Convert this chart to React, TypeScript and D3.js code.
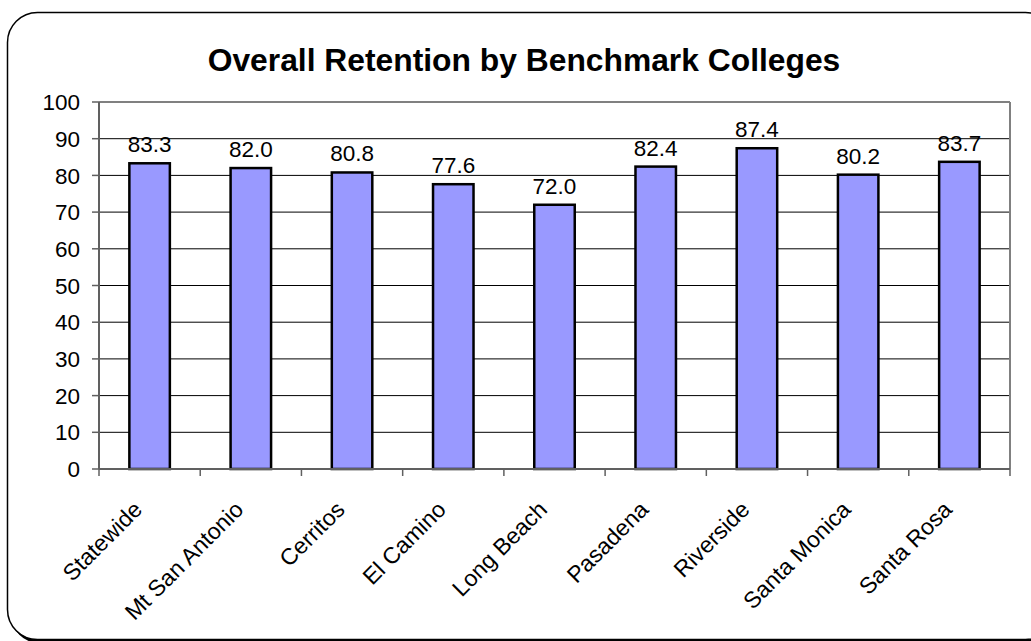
import React from 'react';
import * as d3 from 'd3';

const colleges = [
  'Statewide',
  'Mt San Antonio',
  'Cerritos',
  'El Camino',
  'Long Beach',
  'Pasadena',
  'Riverside',
  'Santa Monica',
  'Santa Rosa',
];
const retention = [83.3, 82.0, 80.8, 77.6, 72.0, 82.4, 87.4, 80.2, 83.7];
const yTicks = [0, 10, 20, 30, 40, 50, 60, 70, 80, 90, 100];
const chartTitle = 'Overall Retention by Benchmark Colleges';

export default function App() {
  const width = 1031;
  const height = 641;
  const plot = { left: 99, right: 1010, top: 102, bottom: 469 }; // plot area box

  const x = d3.scaleBand<string>().domain(colleges).range([plot.left, plot.right]).padding(0);
  const y = d3.scaleLinear().domain([0, 100]).range([plot.bottom, plot.top]);
  const barW = x.step() * 0.4; // gap width 150%
  const font = 'Arial, "Liberation Sans", sans-serif';

  return (
    <svg
      width={width}
      height={height}
      style={{ position: 'absolute', left: 0, top: 0, background: '#fff' }}
      fontFamily={font}
    >
      {/* frame with shadow */}
      <rect x={10.5} y={15.5} width={1048} height={628} rx={30} fill="#000" />
      <rect x={7.5} y={12.5} width={1048} height={627} rx={30} fill="#fff" stroke="#000" strokeWidth={1.5} />

      <text x={524} y={71} textAnchor="middle" fontSize={31.8} fontWeight="bold">
        {chartTitle}
      </text>

      {/* grid lines */}
      {yTicks.filter(t => t > 0 && t < 100).map(t => (
        <line key={t} x1={plot.left} x2={plot.right} y1={y(t)} y2={y(t)} stroke="#000" strokeWidth={1} />
      ))}

      {/* plot border top / right */}
      <line x1={plot.left} x2={plot.right} y1={plot.top} y2={plot.top} stroke="#808080" strokeWidth={2} />
      <line x1={plot.right} x2={plot.right} y1={plot.top} y2={plot.bottom} stroke="#808080" strokeWidth={2} />

      {/* y axis */}
      <line x1={plot.left} x2={plot.left} y1={plot.top} y2={plot.bottom} stroke="#606060" strokeWidth={2} />
      {yTicks.map(t => (
        <g key={t}>
          <line x1={plot.left - 7} x2={plot.left} y1={y(t)} y2={y(t)} stroke="#606060" strokeWidth={1.5} />
          <text x={80} y={y(t)} dy="0.36em" textAnchor="end" fontSize={22.5}>
            {t}
          </text>
        </g>
      ))}

      {/* bars */}
      {colleges.map((c, i) => {
        const cx = (x(c) ?? 0) + x.bandwidth() / 2;
        return (
          <g key={c}>
            <rect
              x={cx - barW / 2}
              y={y(retention[i])}
              width={barW}
              height={y(0) - y(retention[i])}
              fill="#9999FF"
              stroke="#000"
              strokeWidth={2.5}
            />
            <text x={cx} y={y(retention[i]) - 11} textAnchor="middle" fontSize={22.5}>
              {retention[i].toFixed(1)}
            </text>
          </g>
        );
      })}

      {/* x axis */}
      <line x1={plot.left} x2={plot.right} y1={plot.bottom} y2={plot.bottom} stroke="#606060" strokeWidth={2} />
      {colleges.map(c => (
        <line key={c} x1={x(c) ?? 0} x2={x(c) ?? 0} y1={plot.bottom} y2={plot.bottom + 7} stroke="#606060" strokeWidth={1.5} />
      ))}
      <line x1={plot.right} x2={plot.right} y1={plot.bottom} y2={plot.bottom + 7} stroke="#606060" strokeWidth={1.5} />
      {colleges.map(c => {
        const cx = (x(c) ?? 0) + x.bandwidth() / 2;
        return (
          <text
            key={c}
            transform={`translate(${cx - 6},${plot.bottom + 42}) rotate(-45)`}
            textAnchor="end"
            fontSize={23}
          >
            {c}
          </text>
        );
      })}
    </svg>
  );
}
